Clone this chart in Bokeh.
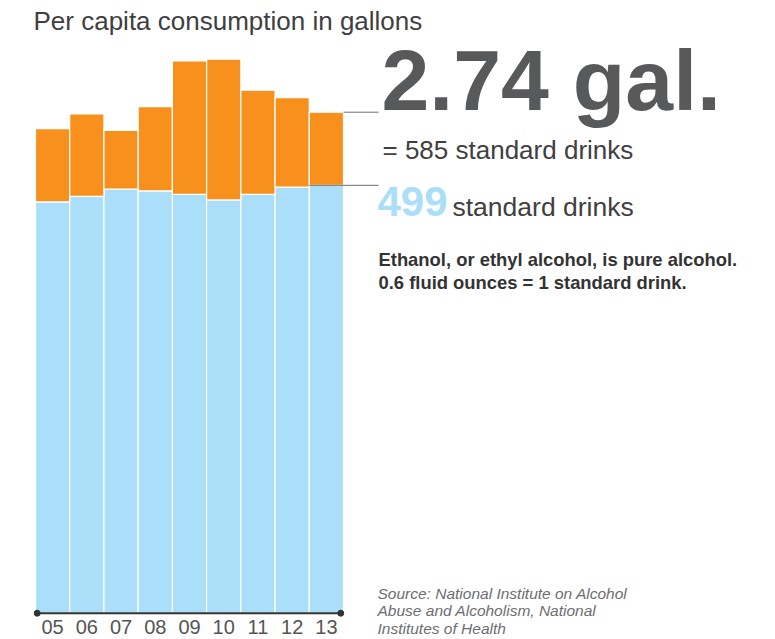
from bokeh.plotting import figure
from bokeh.models import Range1d, Label, FixedTicker, LinearAxis, ColumnDataSource
from bokeh.embed import file_html
from bokeh.resources import INLINE

# ---- data (gallons of ethanol per capita) ----
years = ["05", "06", "07", "08", "09", "10", "11", "12", "13"]
base_gal = [2.25, 2.28, 2.32, 2.31, 2.29, 2.26, 2.29, 2.33, 2.34]
extra_gal = [0.40, 0.45, 0.32, 0.46, 0.73, 0.77, 0.57, 0.49, 0.40]

title_text = "Per capita consumption in gallons"
big_text = "2.74 gal."
drinks_total_text = "= 585 standard drinks"
drinks_base_num = "499"
drinks_base_text = "standard drinks"
note_lines = ["Ethanol, or ethyl alcohol, is pure alcohol.",
              "0.6 fluid ounces = 1 standard drink."]
source_lines = ["Source: National Institute on Alcohol",
                "Abuse and Alcoholism, National",
                "Institutes of Health"]

BLUE = "#aadef9"
ORANGE = "#f8901d"
DARK = "#58595b"
TEXT = "#404041"
FONT = "Liberation Sans"

# ---- geometry ----
W, H = 775, 639
n = len(years)
BAR_PX = 308 / n          # pixels per bar
X0_PX = 35                # canvas x of first bar's left edge
BASE_PX = 612.7           # canvas y of zero
GAL_PX = 182.85           # pixels per gallon

x_start = -X0_PX / BAR_PX
x_end = (W - X0_PX) / BAR_PX
y_start = -(H - BASE_PX) / GAL_PX
y_end = BASE_PX / GAL_PX


def X(px):
    return (px - X0_PX) / BAR_PX


def Y(py):
    return (BASE_PX - py) / GAL_PX


p = figure(width=W, height=H, x_range=Range1d(x_start, x_end),
           y_range=Range1d(y_start, y_end), output_backend="svg",
           toolbar_location=None, min_border=0, x_axis_location=None,
           y_axis_location=None, outline_line_color=None,
           background_fill_color="white", border_fill_color="white")
p.xgrid.visible = False
p.ygrid.visible = False

xs = [i + 0.5 for i in range(n)]
totals = [a + b for a, b in zip(base_gal, extra_gal)]
src = ColumnDataSource(dict(x=xs, base=base_gal, extra=extra_gal))
p.vbar_stack(["base", "extra"], x="x", width=1, source=src,
             fill_color=[BLUE, ORANGE], line_color="white", line_width=1.2)

# axis with year labels
ax = LinearAxis(fixed_location=0, ticker=FixedTicker(ticks=xs),
                major_label_overrides={x: y for x, y in zip(xs, years)},
                axis_line_color=None, major_tick_line_color=None,
                minor_tick_line_color=None, major_tick_out=0, major_tick_in=0,
                major_label_standoff=7, major_label_text_font=FONT,
                major_label_text_font_size="20px",
                major_label_text_color="#555555")
p.add_layout(ax, "below")

# baseline with end dots
p.line(x=[0.05, n - 0.08], y=[0, 0], line_color="#333333", line_width=2)
p.scatter(x=[0.05, n - 0.08], y=[0, 0], size=6, color="#333333")

# leader lines
p.segment(x0=[n, n - 1], y0=[totals[-1], base_gal[-1]],
          x1=[X(378), X(378)], y1=[totals[-1], base_gal[-1]],
          line_color="#6d6e71", line_width=1)


def add_label(px, baseline_py, text, size, color=TEXT, style="normal"):
    # renderer places the alphabetic baseline ~0.35em below the anchor
    p.add_layout(Label(x=X(px), y=Y(baseline_py - 0.35 * size), text=text,
                       text_font=FONT, text_font_size=f"{size}px",
                       text_color=color, text_font_style=style,
                       text_baseline="alphabetic", text_align="left"))


add_label(33, 29.3, title_text, 26, "#3f3f3f")
add_label(381, 110, big_text, 86, DARK, "bold")
add_label(382, 158.3, drinks_total_text, 26)
add_label(377, 215.7, drinks_base_num, 42, BLUE, "bold")
add_label(452, 215.7, drinks_base_text, 26.5)
add_label(378, 265, note_lines[0], 18.4, "#333333", "bold")
add_label(378, 288.5, note_lines[1], 18.4, "#333333", "bold")
for i, line in enumerate(source_lines):
    add_label(377, 598.3 + 17.5 * i, line, 15.5, "#6d6e71", "italic")

open("out.html", "w").write(file_html(p, INLINE))
